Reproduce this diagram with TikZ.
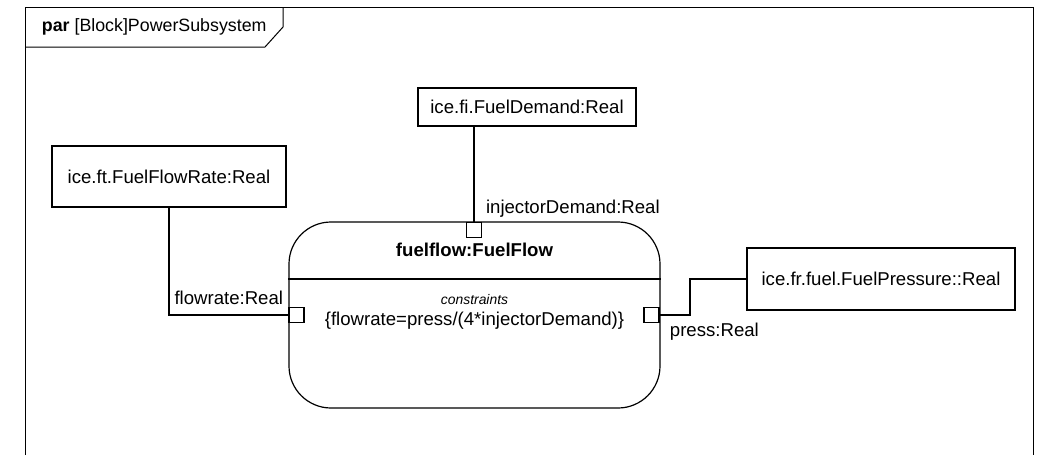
\documentclass[tikz,border=0pt]{standalone}
\usepackage{fontspec}
\setmainfont{Liberation Sans}
\usetikzlibrary{calc}

\begin{document}
\begin{tikzpicture}[x=1pt, y=-1pt, line width=1.2pt, font=\fontsize{18.6}{22}\selectfont,
    blk/.style={rectangle, draw, inner sep=0pt},
    port/.style={rectangle, draw, fill=white, minimum size=15pt, inner sep=0pt}]
  \useasboundingbox (0,0) rectangle (1043,455);
  % frame
  \draw[line width=1pt] (25,455) -- (25,7) -- (1033,7) -- (1033,455);
  \draw[line width=1pt] (25,47) -- (265,47) -- (283,27) -- (283,7);
  \path (38,27) node[anchor=west, font=\fontsize{17.8}{21}\selectfont](frame){\textbf{par} [Block]PowerSubsystem};

  \path (527,107) node[blk, minimum width=218pt, minimum height=38pt](demand){ice.fi.FuelDemand:Real}
        (169,176.5) node[blk, minimum width=234pt, minimum height=61pt](rate){ice.ft.FuelFlowRate:Real}
        (881,279) node[blk, minimum width=268pt, minimum height=62pt](pressure){ice.fr.fuel.FuelPressure::Real}
        (474.5,315) node[blk, rounded corners=42pt, minimum width=371pt, minimum height=186pt](fuelflow){};

  \draw (fuelflow.west |- 0,279) -- (fuelflow.east |- 0,279);
  \path (474.5,250) node(title){\textbf{fuelflow:FuelFlow}}
        (474.5,300) node[font=\fontsize{13.9}{16}\selectfont\itshape](ckw){constraints}
        (474.5,321) node(rule){\{flowrate=press/(4*injectorDemand)\}};

  % ports
  \path (474,230) node[port](tport){}
        (296.5,315) node[port](lport){}
        (651.5,315) node[port](rport){};
  \coordinate (bend) at (690,315);

  \path (tport.north east) ++(0,-13) node[anchor=west](tlabel){injectorDemand:Real}
        (287,298) node[anchor=east](llabel){flowrate:Real}
        (666,332) node[anchor=west](rlabel){press:Real};

  \draw (tport.north) -- (tport.north |- demand.south);
  \draw (lport.west) -| (rate.south);
  \draw (rport.east) -- (bend) |- (pressure.west);
\end{tikzpicture}
\end{document}
